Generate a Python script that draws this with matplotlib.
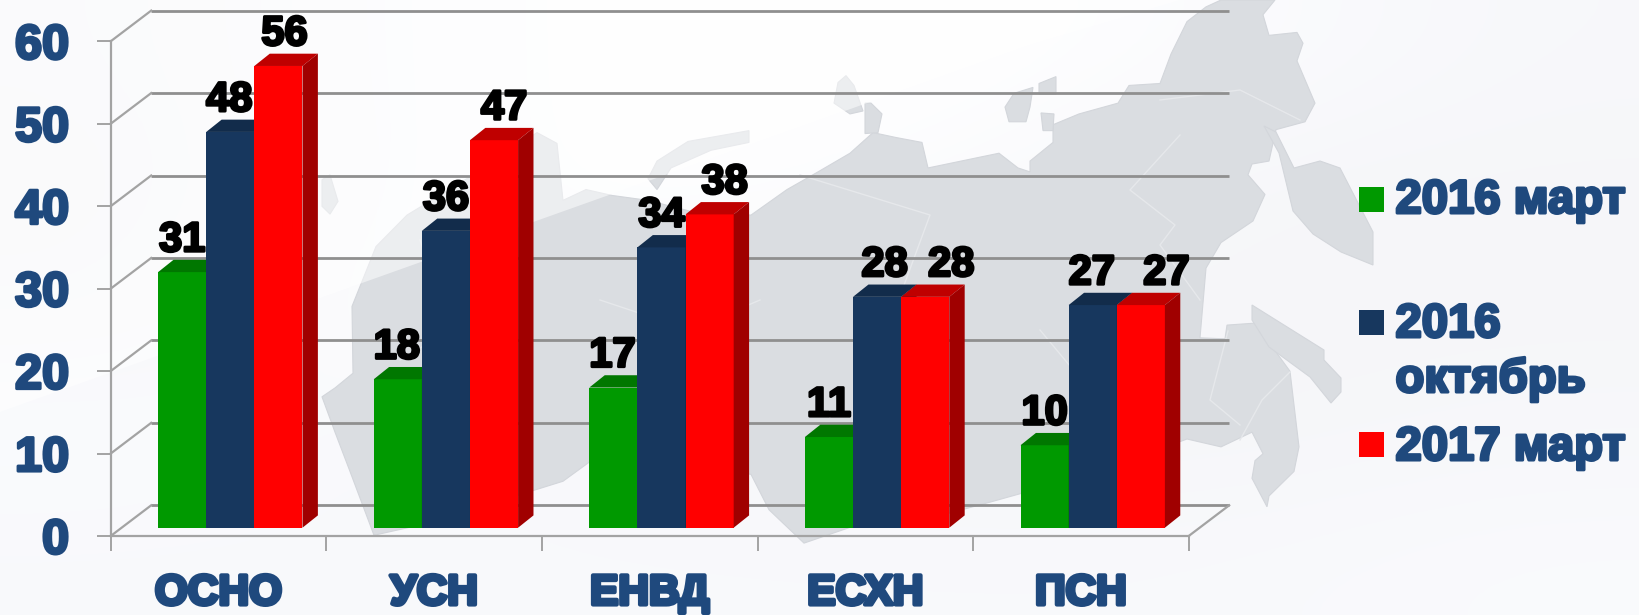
import matplotlib
matplotlib.use("Agg")
import matplotlib.pyplot as plt
import matplotlib.patheffects as pe
from matplotlib.patches import Polygon, Rectangle
from matplotlib.transforms import Affine2D, IdentityTransform
import numpy as np

categories = ["ОСНО", "УСН", "ЕНВД", "ЕСХН", "ПСН"]
march_2016 = [31, 18, 17, 11, 10]
october_2016 = [48, 36, 34, 28, 27]
march_2017 = [56, 47, 38, 28, 27]
y_ticks = [0, 10, 20, 30, 40, 50, 60]

series = [march_2016, october_2016, march_2017]
front_cols = ["#009900", "#17375e", "#ff0000"]
top_cols = ["#007700", "#122c4b", "#bf0000"]
side_cols = ["#006600", "#0f2540", "#a00000"]
label_nudge = [[0, -1, 6], [-1, 0, 10], [-1, 0, 15], [0, 7.5, 26], [0, -1, 25.5]]

W, H = 1640, 615
TXT = "#1f497d"
AX = "#a3a3a3"
GRID = "#8f8f8f"
plt.rcParams["font.family"] = ["Liberation Sans", "DejaVu Sans"]
fig = plt.figure(figsize=(W / 100, H / 100), dpi=100)

# background, in pixel coordinates
bg = fig.add_axes([0, 0, 1, 1], zorder=0)
bg.set_xlim(0, W)
bg.set_ylim(H, 0)
bg.axis("off")
shade = np.array([
    [0.965, 0.985, 1.00, 1.00, 0.985, 0.97],
    [0.960, 0.985, 1.00, 0.985, 0.965, 0.965],
    [0.965, 0.995, 0.975, 0.965, 0.965, 0.965],
    [0.985, 0.975, 0.970, 0.965, 0.965, 0.970],
    [0.975, 0.975, 0.975, 0.975, 0.975, 0.980],
])
rgb = np.dstack([shade, shade + 0.002, np.minimum(shade + 0.012, 1)])
bg.imshow(rgb, extent=(0, W, H, 0), aspect="auto", interpolation="bicubic", zorder=0)

F = 2.75 / 2.8
main_map = [(322, 404), (335, 395), (353, 380), (352, 312), (376, 251), (407, 219), (470, 180), (537, 135),
            (557, 146), (563, 204), (586, 193), (612, 199), (648, 204), (690, 215), (751, 219), (787, 193),
            (818, 175), (850, 156), (873, 135), (896, 140), (922, 145), (928, 171), (980, 160), (999, 156),
            (1018, 171), (1030, 175), (1030, 164), (1053, 145), (1053, 127), (1079, 116), (1118, 105),
            (1129, 87), (1160, 85), (1171, 55), (1187, 22), (1206, 7), (1221, 0), (1275, 0), (1263, 15),
            (1269, 36), (1297, 33), (1303, 44), (1297, 62), (1315, 105), (1305, 124), (1276, 132), (1269, 164),
            (1252, 167), (1248, 178), (1265, 198), (1253, 225), (1221, 247), (1206, 273), (1200, 344),
            (1225, 345), (1227, 331), (1255, 329), (1290, 378), (1299, 455), (1294, 480), (1269, 505),
            (1267, 516), (1252, 487), (1255, 469), (1263, 462), (1252, 440), (1221, 455), (1187, 447),
            (1100, 480), (991, 511), (940, 525), (870, 530), (804, 553), (769, 519), (751, 483), (680, 470),
            (590, 470), (563, 490), (500, 510), (440, 530), (374, 545), (350, 480), (335, 440)]
outlines = [[(x, y * F) for x, y in main_map]]
for isl in [
    [(648, 182), (657, 164), (688, 144), (749, 133), (749, 145), (711, 153), (671, 171), (657, 193)],
    [(838, 84), (846, 77), (854, 87), (863, 113), (850, 116), (834, 105)],
    [(865, 105), (871, 105), (882, 116), (878, 135), (865, 136)],
    [(1005, 109), (1014, 95), (1033, 89), (1030, 109), (1026, 124), (1009, 124)],
    [(1039, 85), (1056, 78), (1056, 96), (1039, 96)],
    [(1041, 115), (1054, 116), (1053, 133), (1043, 133)],
    [(1264, 126), (1276, 132), (1294, 168), (1320, 161), (1340, 168), (1373, 232), (1373, 265), (1341, 252),
     (1313, 234), (1293, 211), (1279, 153)],
    [(1252, 305), (1324, 350), (1324, 360), (1341, 378), (1341, 392), (1331, 403), (1310, 377), (1269, 347),
     (1252, 320)],
    [(322, 183), (330, 178), (338, 205), (330, 218), (322, 210)],
]:
    outlines.append([(x, y if isl[0][0] >= 1252 else y * F) for x, y in isl])
for poly in outlines:
    bg.add_patch(Polygon(poly, closed=True, fc="#dadde1", ec="#d3d6db", lw=0.8, zorder=1))
# pale regional borders on the map
for seg in [
    [(1290, 372), (1262, 400), (1240, 440)], [(1228, 331), (1210, 400), (1240, 425)],
    [(1200, 300), (1160, 245), (1175, 225), (1130, 190), (1180, 135)], [(1300, 120), (1240, 90), (1160, 100)],
    [(800, 175), (930, 215), (880, 350), (960, 440)], [(420, 240), (450, 330), (400, 360)],
    [(600, 300), (690, 330), (760, 300)], [(1040, 330), (1090, 390), (1060, 470)],
]:
    xs, ys = zip(*seg)
    bg.plot(xs, ys, color="#e6e8eb", lw=1, zorder=2)
# pale diagonal veil
bg.add_patch(Polygon([(0, 412), (1030, 45), (1180, 0), (0, 0)], closed=True, fc="white", ec="none",
                     alpha=0.5, zorder=3))

ax = fig.add_axes([110.7 / W, (H - 536) / H, 1078 / W, (536 - 41.3) / H], zorder=2)
ax.patch.set_visible(False)
ax.set_xlim(0, 5)
ax.set_ylim(0, 60)
for s in ("top", "right"):
    ax.spines[s].set_visible(False)
for s in ("left", "bottom"):
    ax.spines[s].set_color(AX)
    ax.spines[s].set_linewidth(1.6)

BACK = (40.5, 30.7)
BAR_F = (11.8, 8.3)
BAR_S = (15.4, 12.3)


def px(x, y, off=(0, 0)):
    a = ax.transData.transform((x, y))
    return (a[0] + off[0], a[1] + off[1])


def shifted(off):
    return ax.transData + Affine2D().translate(*off)


# back wall lines and floor depth lines
ax.hlines(y_ticks, 0, 5, color=GRID, lw=2.0, transform=shifted(BACK), clip_on=False, zorder=1)
for v in y_ticks:
    a, b = px(0, v), px(0, v, BACK)
    ax.plot([a[0], b[0]], [a[1], b[1]], color=AX, lw=1.6, transform=IdentityTransform(), clip_on=False, zorder=1)
a, b = px(5, 0), px(5, 0, BACK)
ax.plot([a[0], b[0]], [a[1], b[1]], color=AX, lw=1.6, transform=IdentityTransform(), clip_on=False, zorder=1)

# bars
bw = 0.2232
centers = np.arange(len(categories)) + 0.5
stroke = [pe.withStroke(linewidth=2.0, foreground="black")]
for j, vals in enumerate(series):
    xs = centers + (j - 1) * bw
    ax.bar(xs, vals, bw, color=front_cols[j], transform=shifted(BAR_F), clip_on=False, zorder=3 + j, linewidth=0)
    back = (BAR_F[0] + BAR_S[0], BAR_F[1] + BAR_S[1])
    for x, v in zip(xs, vals):
        L, R = x - bw / 2, x + bw / 2
        top = [px(L, v, BAR_F), px(R, v, BAR_F), px(R, v, back), px(L, v, back)]
        side = [px(R, 0, BAR_F), px(R, v, BAR_F), px(R, v, back), px(R, 0, back)]
        ax.add_patch(Polygon(top, closed=True, fc=top_cols[j], ec="none", transform=IdentityTransform(),
                             clip_on=False, zorder=3 + j))
        ax.add_patch(Polygon(side, closed=True, fc=side_cols[j], ec="none", transform=IdentityTransform(),
                             clip_on=False, zorder=3 + j))

# data labels
for j, vals in enumerate(series):
    xs = centers + (j - 1) * bw
    for i, (x, v) in enumerate(zip(xs, vals)):
        p = px(x, v, (BAR_F[0] + label_nudge[i][j], BAR_F[1] + BAR_S[1] + 8.5))
        ax.text(p[0], p[1], str(v), transform=IdentityTransform(), ha="center", va="baseline", fontsize=30,
                fontweight="bold", color="black", path_effects=stroke, zorder=10, clip_on=False)

# ticks and tick labels
ax.set_yticks(y_ticks)
ax.set_xticks(range(len(categories) + 1))
ax.set_xticklabels([""] * (len(categories) + 1))
ax.set_xticks(centers, categories, minor=True)
ax.tick_params(axis="y", length=10, width=1.4, color=AX, pad=20, labelsize=35, labelcolor=TXT)
ax.tick_params(axis="x", which="major", length=10.8, width=1.4, color=AX)
ax.tick_params(axis="x", which="minor", length=0, pad=27, labelsize=30.5, labelcolor=TXT)
for lab in ax.get_yticklabels():
    lab.set_fontweight("bold")
    lab.set_path_effects([pe.withStroke(linewidth=2.2, foreground=TXT)])
for lab in ax.get_xticklabels(minor=True):
    lab.set_fontweight("bold")
    lab.set_path_effects([pe.withStroke(linewidth=3.0, foreground=TXT)])

# legend
legend_rows = [("2016 март", None), ("2016", "октябрь"), ("2017 март", None)]
sq_tops = [187, 310, 432]
base = [213, 337, 460]
for (t1, t2), col, st, by in zip(legend_rows, front_cols, sq_tops, base):
    bg.add_patch(Rectangle((1359, st), 25, 25, fc=col, ec="none", zorder=5))
    for txt, yy in ((t1, by), (t2, by + 55)):
        if txt:
            bg.text(1395.5, yy, txt, fontsize=34, fontweight="bold", color=TXT, va="baseline", ha="left", zorder=6,
                    path_effects=[pe.withStroke(linewidth=2.2, foreground=TXT)])

fig.savefig("out.png", dpi=100)
